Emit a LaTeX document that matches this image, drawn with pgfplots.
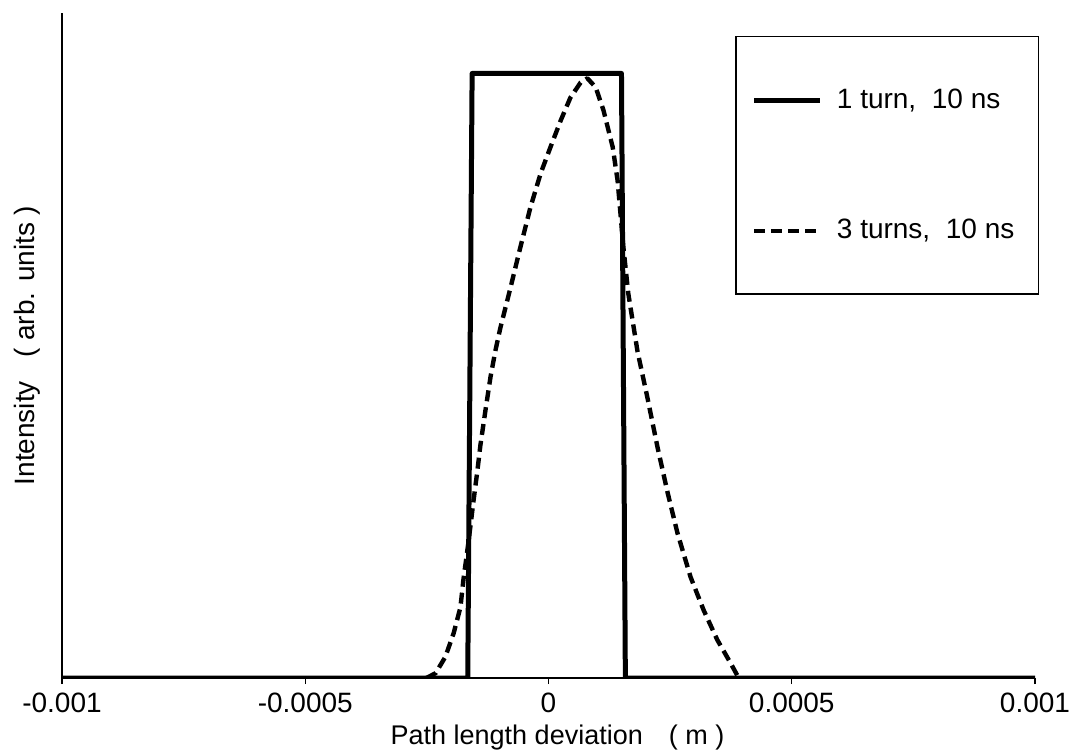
\documentclass[border=0pt]{standalone}
\usepackage{pgfplots}
\pgfplotsset{compat=1.18}
\usepackage{fontspec}
\setmainfont{Liberation Sans}

% single pulse vs. three turns
\pgfplotstableread{
x y
-0.001 0
-0.000166 0
-0.000157 1
0.000150 1
0.000158 0
0.001 0
}\oneturn

\pgfplotstableread{
x y
-0.000251 0
-0.000232 0.008
-0.000212 0.035
-0.000195 0.074
-0.000181 0.117
-0.000175 0.162
-0.000164 0.228
-0.000154 0.294
-0.000146 0.344
-0.000140 0.385
-0.000129 0.446
-0.000119 0.499
-0.000109 0.542
-0.000099 0.579
-0.000078 0.646
-0.000058 0.712
-0.000037 0.779
-0.000016 0.835
0.000004 0.878
0.000025 0.922
0.000045 0.960
0.000066 0.985
0.000080 0.992
0.000097 0.977
0.000113 0.939
0.000132 0.878
0.000142 0.823
0.000154 0.712
0.000164 0.636
0.000183 0.540
0.000203 0.465
0.000224 0.382
0.000245 0.306
0.000265 0.240
0.000292 0.167
0.000319 0.112
0.000347 0.063
0.000374 0.025
0.000391 0
}\threeturns

\begin{document}
\begin{tikzpicture}
\path[use as bounding box] (-31pt,-36pt) rectangle (504pt,339pt);
\begin{axis}[
    scale only axis,
    width=486.5pt, height=332.5pt,
    xmin=-0.001, xmax=0.001,
    ymin=0, ymax=1.1,
    axis x line=bottom, axis y line=left,
    axis line style={-, line width=0.7pt},
    xtick={-0.001,-0.0005,0,0.0005,0.001},
    xticklabels={-0.001,-0.0005,0,0.0005,0.001},
    scaled x ticks=false,
    ytick=\empty,
    tick align=outside,
    major tick length=3pt,
    tick style={line width=0.6pt, black},
    tick label style={font=\fontsize{14}{16}\selectfont},
    xticklabel style={yshift=-1pt},
    xlabel={Path length deviation\hspace{13pt}( m )},
    ylabel={Intensity \ \ ( arb. units )},
    label style={font=\fontsize{14}{16}\selectfont},
    xlabel style={yshift=1pt, xshift=4.5pt, font=\fontsize{13.5}{16}\selectfont},
    ylabel style={yshift=4.5pt},
    legend style={
        at={(rel axis cs:0.692,0.965)}, anchor=north west,
        draw=black, line width=0.6pt,
        inner xsep=8pt, inner ysep=24pt,
        row sep=50pt,
        font=\fontsize{14}{16}\selectfont,
        legend cell align=left,
    },
    legend image code/.code={
        \draw[#1] (0pt,0pt) -- (33pt,0pt);
    },
    every axis legend/.append style={nodes={inner xsep=4pt}},
]
\addplot[black, line width=2.5pt, line join=round] table {\oneturn};
\addlegendentry{\hspace{3pt}1 turn,\ \ 10 ns}
\addplot[black, line width=2.2pt, dash pattern=on 5.5pt off 3pt, line join=round] table {\threeturns};
\addlegendentry{\hspace{3pt}3 turns,\ \ 10 ns}
\end{axis}
\end{tikzpicture}
\end{document}
